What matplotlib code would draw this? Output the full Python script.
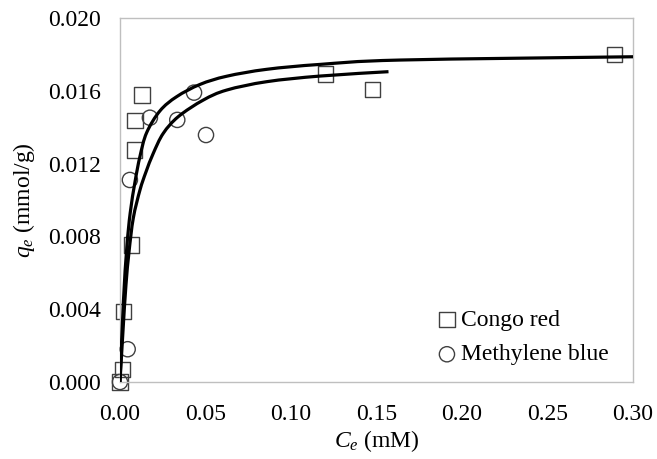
import matplotlib.pyplot as plt
from matplotlib.path import Path
from matplotlib.patches import PathPatch

plt.rcParams['font.family'] = ['Liberation Serif', 'DejaVu Serif']
plt.rcParams['mathtext.fontset'] = 'custom'
plt.rcParams['mathtext.rm'] = 'Liberation Serif'
plt.rcParams['mathtext.it'] = 'Liberation Serif:italic'

# Measured points
cr_ce = [0.0, 0.0014, 0.0019, 0.0066, 0.0086, 0.0088, 0.0129, 0.120, 0.1478, 0.2893]
cr_qe = [0.0, 0.0007, 0.00386, 0.00753, 0.01275, 0.01436, 0.01577, 0.01692, 0.01608, 0.0180]
mb_ce = [0.0, 0.0045, 0.0058, 0.0175, 0.0335, 0.0433, 0.0503]
mb_qe = [0.0, 0.0018, 0.0111, 0.01452, 0.0144, 0.0159, 0.01357]

# Fitted curves
cr_fit_x = [0.0, 0.002, 0.004, 0.006, 0.0088, 0.0117, 0.0156, 0.0234, 0.0332,
            0.0468, 0.0624, 0.0858, 0.117, 0.164, 0.300]
cr_fit_y = [0.0, 0.0044, 0.0074, 0.0093, 0.0110, 0.0124, 0.0137, 0.0149, 0.01568,
            0.01635, 0.01680, 0.01718, 0.01745, 0.01769, 0.01787]
mb_fit_x = [0.0, 0.0018, 0.0035, 0.0053, 0.0078, 0.0117, 0.0152, 0.0195, 0.0253,
            0.0341, 0.0487, 0.0624, 0.0858, 0.117, 0.157]
mb_fit_y = [0.0, 0.00286, 0.00533, 0.00716, 0.00901, 0.01055, 0.01154, 0.01257, 0.01366,
            0.01458, 0.01549, 0.01604, 0.01650, 0.01681, 0.01705]


def smooth_path(xs, ys):
    # Excel-like smoothed line: cubic Bezier segments through the points
    pts = list(zip(xs, ys))
    verts = [pts[0]]
    codes = [Path.MOVETO]
    n = len(pts)
    for i in range(n - 1):
        p0 = pts[i - 1] if i > 0 else pts[i]
        p1 = pts[i]
        p2 = pts[i + 1]
        p3 = pts[i + 2] if i + 2 < n else pts[i + 1]
        c1 = (p1[0] + (p2[0] - p0[0]) / 6, p1[1] + (p2[1] - p0[1]) / 6)
        c2 = (p2[0] - (p3[0] - p1[0]) / 6, p2[1] - (p3[1] - p1[1]) / 6)
        verts += [c1, c2, p2]
        codes += [Path.CURVE4] * 3
    return Path(verts, codes)


fig = plt.figure(figsize=(6.57, 4.59), dpi=100)
ax = fig.add_axes([0.1826, 0.1678, 0.781, 0.793])

ax.scatter(cr_ce, cr_qe, marker='s', s=120, facecolors='none', edgecolors='#404040',
           linewidths=1.0, label='Congo red', zorder=2, clip_on=False)
ax.scatter(mb_ce, mb_qe, marker='o', s=120, facecolors='none', edgecolors='#404040',
           linewidths=1.0, label='Methylene blue', zorder=2, clip_on=False)
for fx, fy in [(cr_fit_x, cr_fit_y), (mb_fit_x, mb_fit_y)]:
    ax.add_patch(PathPatch(smooth_path(fx, fy), facecolor='none', edgecolor='black',
                           lw=2.3, zorder=3))

ax.set_xlim(0, 0.30)
ax.set_ylim(0, 0.020)
ax.set_xticks([0.00, 0.05, 0.10, 0.15, 0.20, 0.25, 0.30])
ax.set_yticks([0.000, 0.004, 0.008, 0.012, 0.016, 0.020])
ax.xaxis.set_major_formatter(plt.FormatStrFormatter('%.2f'))
ax.yaxis.set_major_formatter(plt.FormatStrFormatter('%.3f'))
ax.tick_params(length=0, labelsize=17)
ax.tick_params(axis='x', pad=16)
ax.tick_params(axis='y', pad=14)
for s in ax.spines.values():
    s.set_color('#BFBFBF')
    s.set_linewidth(1.0)

ax.set_xlabel('$C_e$ (mM)', fontsize=17, labelpad=2)
ax.set_ylabel('$q_e$ (mmol/g)', fontsize=17, labelpad=8)

ax.legend(loc='lower right', bbox_to_anchor=(0.985, 0.0), frameon=False, fontsize=17,
          handlelength=1.2, handletextpad=0.0, labelspacing=0.55, borderpad=0.2)

fig.savefig('out.png', dpi=100)
